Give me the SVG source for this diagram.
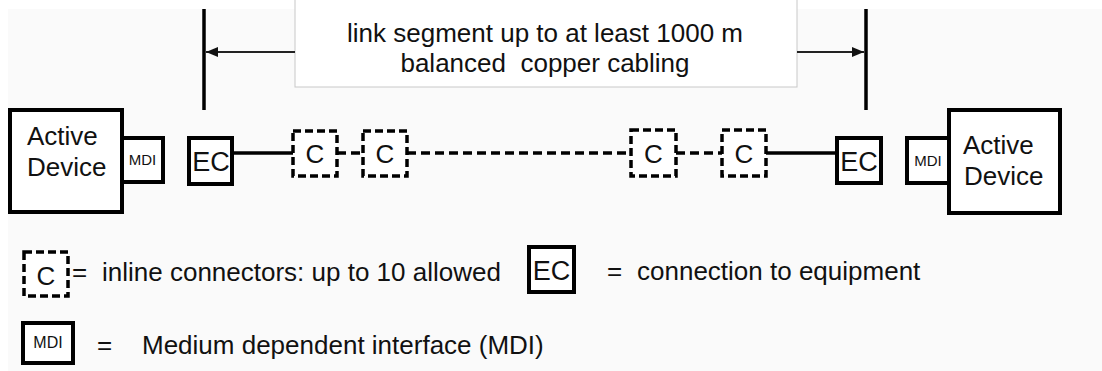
<svg xmlns="http://www.w3.org/2000/svg" width="1102" height="371" viewBox="0 0 1102 371">
<defs>
<style>
text{font-family:"Liberation Sans",Arial,sans-serif;fill:#111;}
.big{font-size:26px;}
.ec{font-size:27px;text-anchor:middle;}
.mdi{font-size:15px;text-anchor:middle;}
.c{font-size:26px;text-anchor:middle;}
.box{fill:#fff;stroke:#000;stroke-width:4;}
.dbox{fill:#fff;stroke:#000;stroke-width:3.5;stroke-dasharray:8 4;}
.solid{stroke:#000;stroke-width:3.5;fill:none;}
.dash{stroke:#000;stroke-width:3.5;fill:none;stroke-dasharray:9 5;}
.vbar{stroke:#000;stroke-width:3.5;}
.arr{stroke:#222;stroke-width:2;}
</style>
<marker id="ah" viewBox="0 0 12 10" refX="12" refY="5" markerWidth="12" markerHeight="10" markerUnits="userSpaceOnUse" orient="auto">
<path d="M0,0 L12,5 L0,10 Z" fill="#111"/>
</marker>
</defs>
<rect x="0" y="0" width="1102" height="371" fill="#fff"/>
<rect x="8" y="9" width="1094" height="362" fill="#fafafa"/>

<g id="span-label">
<rect x="295" y="-2" width="502" height="89" fill="#fff" stroke="#c8c8c8" stroke-width="1"/>
<text class="big" x="545" y="42" text-anchor="middle">link segment up to at least 1000 m</text>
<text class="big" x="545" y="72" text-anchor="middle" xml:space="preserve">balanced  copper cabling</text>
</g>

<g id="connectors">
<line class="vbar" x1="204" y1="9" x2="204" y2="110"/>
<line class="vbar" x1="866" y1="9" x2="866" y2="110"/>
<line class="arr" x1="295" y1="52" x2="206" y2="52" marker-end="url(#ah)"/>
<line class="arr" x1="797" y1="52" x2="864" y2="52" marker-end="url(#ah)"/>
<line class="solid" x1="232" y1="153" x2="293" y2="153"/>
<line class="dash" x1="337" y1="153" x2="363" y2="153"/>
<line class="dash" x1="407" y1="153" x2="631" y2="153"/>
<line class="dash" x1="676" y1="153" x2="722" y2="153"/>
<line class="solid" x1="766" y1="153" x2="837" y2="153"/>
</g>

<g id="active-device-left">
<rect class="box" x="10" y="110" width="112" height="102"/>
<text class="big" x="27" y="145">Active</text>
<text class="big" x="27" y="176">Device</text>
</g>
<g id="mdi-left">
<rect class="box" x="122" y="138" width="41" height="44"/>
<text class="mdi" x="142.5" y="165">MDI</text>
</g>
<g id="ec-left">
<rect class="box" x="189" y="138" width="43" height="46"/>
<text class="ec" x="211" y="171">EC</text>
</g>
<g id="c1">
<rect class="dbox" x="293" y="131" width="44" height="45"/>
<text class="c" x="315" y="163">C</text>
</g>
<g id="c2">
<rect class="dbox" x="363" y="131" width="44" height="45"/>
<text class="c" x="385" y="163">C</text>
</g>
<g id="c3">
<rect class="dbox" x="631" y="130" width="45" height="46"/>
<text class="c" x="653.5" y="163">C</text>
</g>
<g id="c4">
<rect class="dbox" x="722" y="130" width="44" height="46"/>
<text class="c" x="744" y="163">C</text>
</g>
<g id="ec-right">
<rect class="box" x="837" y="138" width="44" height="45"/>
<text class="ec" x="859" y="171">EC</text>
</g>
<g id="mdi-right">
<rect class="box" x="907" y="138" width="42" height="45"/>
<text class="mdi" x="928" y="166">MDI</text>
</g>
<g id="active-device-right">
<rect class="box" x="949" y="110" width="111" height="103"/>
<text class="big" x="963" y="154">Active</text>
<text class="big" x="964" y="185">Device</text>
</g>

<g id="legend-c">
<rect class="dbox" x="24" y="252" width="44" height="44"/>
<text class="c" x="46" y="285">C</text>
<text class="big" x="72" y="281">=</text>
<text class="big" x="102" y="281">inline connectors: up to 10 allowed</text>
</g>
<g id="legend-ec">
<rect class="box" x="529" y="247" width="45" height="45" stroke-width="3.5"/>
<text class="ec" x="551.5" y="280">EC</text>
<text class="big" x="607" y="280">=</text>
<text class="big" x="637" y="280">connection to equipment</text>
</g>
<g id="legend-mdi">
<rect class="box" x="23" y="323" width="50" height="40" stroke-width="3.5"/>
<text class="mdi" x="48" y="348" style="font-size:16px">MDI</text>
<text class="big" x="97" y="354">=</text>
<text class="big" x="142" y="354">Medium dependent interface (MDI)</text>
</g>
</svg>
